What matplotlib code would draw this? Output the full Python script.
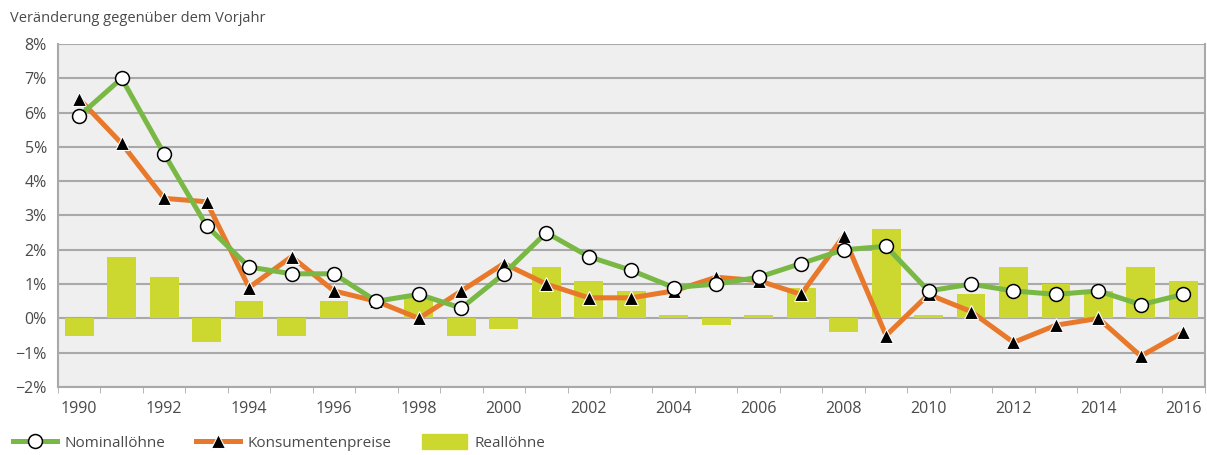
import numpy as np
import matplotlib.pyplot as plt
from matplotlib.lines import Line2D
from matplotlib.patches import Patch

plt.rcParams['font.family'] = ['Open Sans', 'DejaVu Sans']

years = list(range(1990, 2017))
nominal = [5.9, 7.0, 4.8, 2.7, 1.5, 1.3, 1.3, 0.5, 0.7, 0.3, 1.3, 2.5, 1.8, 1.4,
           0.9, 1.0, 1.2, 1.6, 2.0, 2.1, 0.8, 1.0, 0.8, 0.7, 0.8, 0.4, 0.7]
cpi = [6.4, 5.1, 3.5, 3.4, 0.9, 1.8, 0.8, 0.5, 0.0, 0.8, 1.6, 1.0, 0.6, 0.6,
       0.8, 1.2, 1.1, 0.7, 2.4, -0.5, 0.7, 0.2, -0.7, -0.2, 0.0, -1.1, -0.4]
real = [-0.5, 1.8, 1.2, -0.7, 0.5, -0.5, 0.5, 0.0, 0.6, -0.5, -0.3, 1.5, 1.1, 0.8,
        0.1, -0.2, 0.1, 0.9, -0.4, 2.6, 0.1, 0.7, 1.5, 1.0, 0.8, 1.5, 1.1]

green = '#79b845'
orange = '#e8792a'
yellow = '#ccd830'
grey_txt = '#4a4a4a'
grid_c = '#a9a9a9'

fig = plt.figure(figsize=(12.07, 4.55), dpi=100)
ax = fig.add_axes([0.048, 0.1495, 0.950, 0.7538])
ax.set_facecolor('#efefef')

ax.bar(years, real, width=0.68, color=yellow, zorder=2)
ax.plot(years, cpi, color=orange, lw=3.6, marker='^', ms=9.5,
        mfc='black', mec='white', mew=0.8, zorder=3)
ax.plot(years, nominal, color=green, lw=3.6, marker='o', ms=10,
        mfc='white', mec='black', mew=1.1, zorder=4)

ax.set_xlim(1989.5, 2016.5)
ax.set_ylim(-2, 8)
ax.set_yticks(range(-2, 9))
ax.set_yticklabels([f'{v}%'.replace('-', '\u2212') for v in range(-2, 9)])
ax.yaxis.grid(True, color=grid_c, lw=1.5, zorder=1)
ax.set_axisbelow(True)

ax.set_xticks(range(1990, 2017, 2))
ax.set_xticks(np.arange(1989.5, 2017, 1), minor=True)
ax.tick_params(axis='x', which='major', length=0, pad=10, labelsize=11.5, labelcolor=grey_txt)
ax.tick_params(axis='x', which='minor', length=4, color=grid_c, direction='out')
ax.tick_params(axis='y', length=0, pad=8, labelsize=11.5, labelcolor=grey_txt)

ax.spines['top'].set_visible(False)
for side in ['left', 'bottom', 'right']:
    ax.spines[side].set_color(grid_c)
    ax.spines[side].set_linewidth(1.5)

fig.text(0.008, 0.96, 'Veränderung gegenüber dem Vorjahr', fontsize=10.5,
         color=grey_txt, va='center')

handles = [
    Line2D([], [], color=green, lw=3.6, marker='o', ms=10, mfc='white',
           mec='black', mew=1.1),
    Line2D([], [], color=orange, lw=3.6, marker='^', ms=9.5, mfc='black',
           mec='white', mew=0.8),
    Patch(color=yellow),
]
labels = ['Nominallöhne', 'Konsumentenpreise', 'Reallöhne']
fig.legend(handles, labels, loc='center left', bbox_to_anchor=(-0.001, 0.027),
           ncol=3, frameon=False, fontsize=11, labelcolor=grey_txt,
           handlelength=2.9, handleheight=1.1, columnspacing=2.0, handletextpad=0.5)

fig.savefig('out.png', dpi=100)
